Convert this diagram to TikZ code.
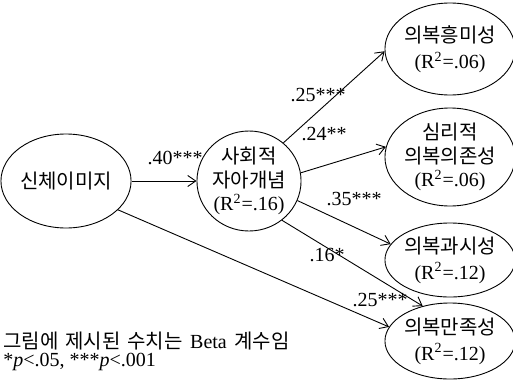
\documentclass[tikz,border=0pt]{standalone}
\usepackage{fontspec}
\setmainfont{Liberation Serif}
\newfontfamily\kr{Noto Sans CJK KR}
\usetikzlibrary{arrows.meta,shapes.geometric}
\begin{document}
\begin{tikzpicture}[x=0.5pt,y=-0.5pt,
  var/.style={draw, ellipse, inner sep=0pt, align=center, line width=0.45pt,
    font=\fontsize{10}{11.8}\selectfont},
  twoline/.style={font=\fontsize{10}{13}\selectfont},
  pth/.style={draw, line width=0.45pt, -{Straight Barb[length=4pt,width=5.5pt]}},
  coef/.style={font=\fontsize{10}{12}\selectfont, inner sep=0pt},
  note/.style={font=\fontsize{10}{12}\selectfont, inner sep=0pt, anchor=west}]
\useasboundingbox (0,0) rectangle (513,380);
\node[var, minimum width=58pt, minimum height=47pt] (A) at (66,181) {{\kr 신체이미지}};
\node[var, minimum width=52pt, minimum height=50pt] (B) at (249,181) {{\kr 사회적}\\{\kr 자아개념}\\(R\textsuperscript{2}=.16)};
\node[var, twoline, minimum width=58pt, minimum height=46pt] (C1) at (450,49) {{\kr 의복흥미성}\\(R\textsuperscript{2}=.06)};
\node[var, minimum width=58pt, minimum height=49pt] (C2) at (450,157) {{\kr 심리적}\\{\kr 의복의존성}\\(R\textsuperscript{2}=.06)};
\node[var, twoline, minimum width=58pt, minimum height=37pt] (C3) at (450,260) {{\kr 의복과시성}\\(R\textsuperscript{2}=.12)};
\node[var, twoline, minimum width=58pt, minimum height=38pt] (C4) at (450,341) {{\kr 의복만족성}\\(R\textsuperscript{2}=.12)};
\draw[pth] (A.east) -- (B.west);
\draw[pth] (B.48) -- (C1.182);
\draw[pth] (B.9) -- (C2.171);
\draw[pth] (B.-22) -- (C3.165);
\draw[pth] (B.-50) -- (C4.128);
\draw[pth] (A.-29) -- (C4.167);
\node[coef] (l1) at (175,158) {.40***};
\node[coef] (l2) at (318,95) {.25***};
\node[coef] (l3) at (324,134) {.24**};
\node[coef] (l4) at (354,199) {.35***};
\node[coef] (l5) at (327,255) {.16*};
\node[coef] (l6) at (380,300) {.25***};
\node[note] (n1) at (3,341) {{\kr 그림에\hspace{1.2pt} 제시된\hspace{1.2pt} 수치는}\hspace{1.2pt} Beta\hspace{1.2pt} {\kr 계수임}};
\node[note] (n2) at (3,362) {*\textit{p}<.05, ***\textit{p}<.001};
\end{tikzpicture}
\end{document}
